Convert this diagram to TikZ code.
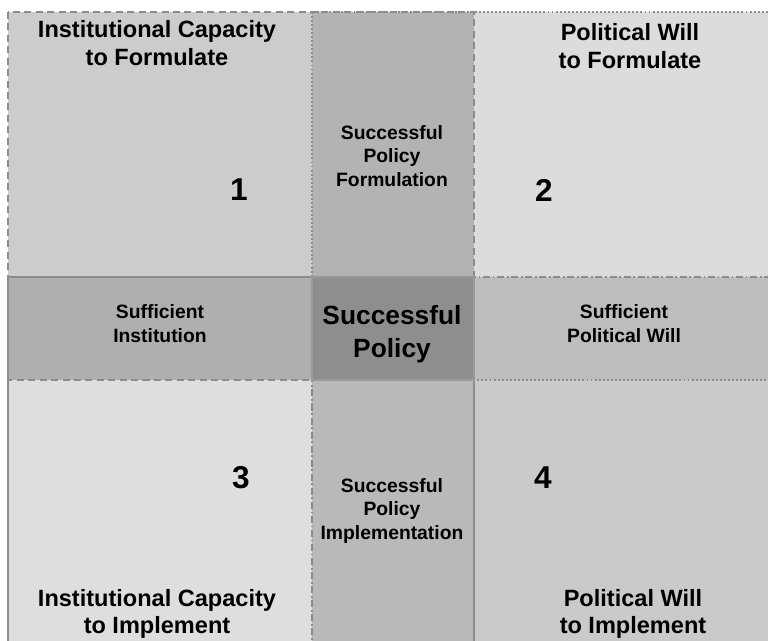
\documentclass[tikz,border=0pt]{standalone}
\usepackage{fontspec}
\setmainfont{Liberation Sans}
\definecolor{edgegray}{gray}{0.55}
\definecolor{capform}{HTML}{CCCCCC}
\definecolor{willform}{HTML}{DCDCDC}
\definecolor{capimpl}{HTML}{DEDEDE}
\definecolor{willimpl}{HTML}{CACACA}
\definecolor{formband}{HTML}{B3B3B3}
\definecolor{instband}{HTML}{AFAFAF}
\definecolor{willband}{HTML}{BDBDBD}
\definecolor{implband}{HTML}{B9B9B9}
\definecolor{core}{HTML}{8E8E8E}
\begin{document}
\begin{tikzpicture}[x=0.02cm,y=-0.02cm,
	edge/.style={draw=edgegray,line width=1.1pt},
	quadtext/.style={align=center,font=\bfseries\fontsize{13.4}{15.5}\selectfont},
	bandtext/.style={align=center,font=\bfseries\fontsize{11}{13.6}\selectfont},
	coretext/.style={align=center,font=\bfseries\fontsize{15}{18.5}\selectfont},
	numtext/.style={font=\bfseries\fontsize{18}{18}\selectfont}]
	\useasboundingbox (0,0) rectangle (768,641);
	\clip (0,0) rectangle (768,641);
	% the nine fields
	\fill[capform] (8,12) rectangle (312,277);
	\fill[formband] (312,12) rectangle (474,277);
	\fill[willform] (474,12) rectangle (780,277);
	\fill[instband] (8,277) rectangle (312,380);
	\fill[core] (312,277) rectangle (474,380);
	\fill[willband] (474,277) rectangle (780,380);
	\fill[capimpl] (8,380) rectangle (312,650);
	\fill[implband] (312,380) rectangle (474,650);
	\fill[willimpl] (474,380) rectangle (780,650);
	% outlines of the four squares
	\draw[edge,dash pattern=on 4pt off 2.5pt] (8,12) rectangle (474,380);
	\draw[edge,dash pattern=on 1.1pt off 1.2pt] (312,12) rectangle (780,380);
	\draw[edge] (8,277) rectangle (474,650);
	\draw[edge,dash pattern=on 4pt off 1.5pt on 1pt off 1.5pt] (312,277) rectangle (780,650);
	\draw[draw=gray!80,line width=0.6pt] (312,277) rectangle (474,380);
	% texts
	\node[quadtext] (capformtext) at (157,43) {Institutional Capacity\\to Formulate};
	\node[quadtext] (willformtext) at (630,46) {Political Will\\to Formulate};
	\node[quadtext] (capimpltext) at (157,614) {Institutional Capacity\\to Implement};
	\node[quadtext] (willimpltext) at (633,614) {Political Will\\to Implement};
	\node[bandtext] (formtext) at (392,156) {Successful\\Policy\\Formulation};
	\node[bandtext] (impltext) at (392,511) {Successful\\Policy\\Implementation};
	\node[bandtext] (insttext) at (160,324) {Sufficient\\Institution};
	\node[bandtext] (willtext) at (624,324) {Sufficient\\Political Will};
	\node[coretext] (coretext) at (392,334) {Successful\\Policy};
	\node[numtext] (one) at (239,190) {1};
	\node[numtext] (two) at (544,190) {2};
	\node[numtext] (three) at (241,478) {3};
	\node[numtext] (four) at (543,478) {4};
\end{tikzpicture}
\end{document}
